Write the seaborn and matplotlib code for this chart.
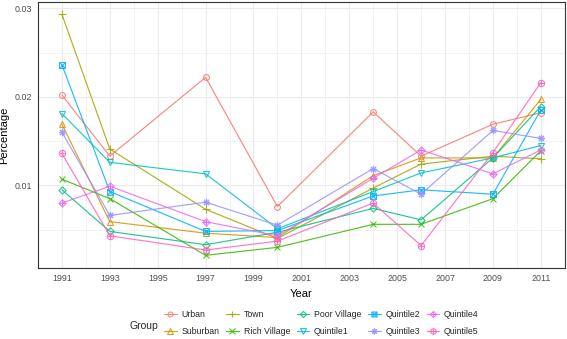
import numpy as np
import pandas as pd
import matplotlib
matplotlib.use('Agg')
import matplotlib.pyplot as plt
import matplotlib.ticker as mticker
from matplotlib.path import Path
from matplotlib.lines import Line2D
import seaborn as sns

years = [1991, 1993, 1997, 2000, 2004, 2006, 2009, 2011]
urban = [0.0202, 0.0133, 0.0222, 0.0076, 0.0183, 0.0133, 0.0169, 0.0182]
suburban = [0.0169, 0.0059, 0.0046, 0.0041, 0.0111, 0.0131, 0.0131, 0.0197]
town = [0.0293, 0.0141, 0.0073, 0.0040, 0.0097, 0.0124, 0.0133, 0.0130]
rich_village = [0.0107, 0.0085, 0.0021, 0.0030, 0.0056, 0.0056, 0.0085, 0.0139]
poor_village = [0.0095, 0.0048, 0.0033, 0.0047, 0.0074, 0.0061, 0.0131, 0.0189]
quintile1 = [0.0181, 0.0126, 0.0113, 0.0051, 0.0093, 0.0114, 0.0131, 0.0145]
quintile2 = [0.0236, 0.0093, 0.0048, 0.0049, 0.0088, 0.0095, 0.0090, 0.0185]
quintile3 = [0.0160, 0.0066, 0.0081, 0.0055, 0.0119, 0.0090, 0.0162, 0.0153]
quintile4 = [0.0080, 0.0099, 0.0059, 0.0043, 0.0108, 0.0140, 0.0113, 0.0140]
quintile5 = [0.0136, 0.0043, 0.0027, 0.0037, 0.0080, 0.0032, 0.0137, 0.0216]

groups = ['Urban', 'Suburban', 'Town', 'Rich Village', 'Poor Village',
          'Quintile1', 'Quintile2', 'Quintile3', 'Quintile4', 'Quintile5']
series = [urban, suburban, town, rich_village, poor_village,
          quintile1, quintile2, quintile3, quintile4, quintile5]

# ggplot default hue palette for 10 levels
colors = ['#F8766D', '#D89000', '#A3A500', '#39B600', '#00BF7D',
          '#00BFC4', '#00B0F6', '#9590FF', '#E76BF3', '#FF62BC']

df = pd.DataFrame({
    'Year': np.tile(years, len(groups)),
    'Percentage': np.concatenate(series),
    'Group': np.repeat(groups, len(years)),
})

# R-like point shapes 1..10
M, L, C = Path.MOVETO, Path.LINETO, Path.CLOSEPOLY
def seg(p0, p1):
  return Path([p0, p1], [M, L])
sq = Path([(-1, -1), (1, -1), (1, 1), (-1, 1), (-1, -1)], [M, L, L, L, C])
dia = Path([(0, -1), (1, 0), (0, 1), (-1, 0), (0, -1)], [M, L, L, L, C])
circ = Path.unit_circle()
sq_x = Path.make_compound_path(sq, seg((-1, -1), (1, 1)), seg((-1, 1), (1, -1)))
dia_plus = Path.make_compound_path(dia, seg((0, -1), (0, 1)), seg((-1, 0), (1, 0)))
circ_plus = Path.make_compound_path(circ, seg((0, -1), (0, 1)), seg((-1, 0), (1, 0)))
markers = ['o', '^', '+', 'x', dia, 'v', sq_x, (8, 2, 0), dia_plus, circ_plus]
msizes = [4.2, 4.6, 5.2, 4.4, 5.2, 4.6, 4.2, 5.2, 5.2, 4.6]

sns.set_style('white')
plt.rcParams['font.family'] = ['Liberation Sans', 'DejaVu Sans']

fig, ax = plt.subplots(figsize=(5.67, 3.39), dpi=100)
fig.subplots_adjust(left=0.067, right=0.996, top=0.994, bottom=0.21)

handles = []
for g, c, m, ms in zip(groups, colors, markers, msizes):
  sub = df[df['Group'] == g]
  sns.lineplot(data=sub, x='Year', y='Percentage', ax=ax, color=c, marker=m,
               markersize=ms, markerfacecolor='none', markeredgecolor=c,
               markeredgewidth=0.8, linewidth=0.85, alpha=0.85, legend=False)
  handles.append(Line2D([], [], color=c, marker=m, markersize=ms * 0.85, markerfacecolor='none',
                        markeredgecolor=c, markeredgewidth=0.8, linewidth=0.85, alpha=0.85))

ax.set_xlim(1990, 2012)
ax.set_ylim(0.00069, 0.0307)
ax.xaxis.set_major_locator(mticker.MultipleLocator(2, offset=1))
ax.xaxis.set_minor_locator(mticker.MultipleLocator(2))
ax.yaxis.set_major_locator(mticker.MultipleLocator(0.01))
ax.yaxis.set_minor_locator(mticker.MultipleLocator(0.005))
ax.yaxis.set_major_formatter(mticker.FormatStrFormatter('%.2f'))
ax.grid(which='major', color='#EBEBEB', linewidth=0.8)
ax.grid(which='minor', color='#EBEBEB', linewidth=0.45)
ax.set_axisbelow(True)
for s in ax.spines.values():
  s.set_color('#333333')
  s.set_linewidth(0.8)
ax.tick_params(which='major', length=2.5, width=0.6, color='#333333',
               labelsize=6.4, labelcolor='#4D4D4D', pad=2)
ax.tick_params(which='minor', length=0)
ax.set_xlabel('Year', fontsize=8, color='black', labelpad=4)
ax.set_ylabel('Percentage', fontsize=8, color='black', labelpad=4)

fig.text(144 / 567, 1 - 325.7 / 339, 'Group', fontsize=7.5, ha='center', va='center')
fig.legend(handles, groups, ncol=5, loc='center left', bbox_to_anchor=(164 / 567, 1 - 323 / 339),
           frameon=False, fontsize=6.3, handlelength=1.45, handletextpad=0.55,
           columnspacing=0.75, labelspacing=1.0, borderpad=0, borderaxespad=0)

plt.savefig('out.png', dpi=100)
